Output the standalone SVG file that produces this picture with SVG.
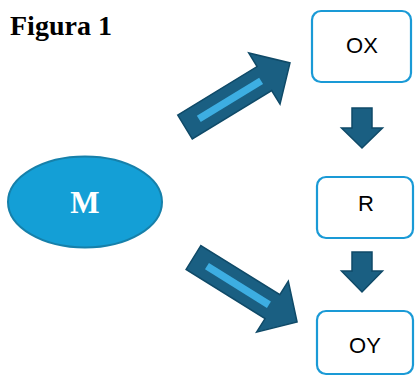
<svg xmlns="http://www.w3.org/2000/svg" width="415" height="378" viewBox="0 0 415 378">
  <defs>
    <style>
      .box { fill: #ffffff; stroke: #1a9ad6; stroke-width: 2.2; }
      .lbl { font-family: "Liberation Sans", Arial, sans-serif; font-size: 22px; fill: #000000; text-anchor: middle; }
      .arr { fill: #1a5f82; stroke: #0f4a68; stroke-width: 1.5; stroke-linejoin: miter; }
      .stripe { fill: #3daee2; }
    </style>
  </defs>
  <rect width="415" height="378" fill="#ffffff"/>
  <text x="10" y="35" font-family="'Liberation Serif', 'Times New Roman', serif" font-size="28" font-weight="bold" fill="#000000">Figura 1</text>

  <g id="node-M">
    <ellipse cx="85" cy="202" rx="77" ry="45.5" fill="#149fd6" stroke="#1680aa" stroke-width="2"/>
    <text x="85" y="213" font-family="'Liberation Serif', 'Times New Roman', serif" font-size="31" font-weight="bold" fill="#ffffff" text-anchor="middle">M</text>
  </g>

  <g id="node-OX">
    <rect class="box" x="312" y="11" width="99" height="71" rx="9"/>
    <text class="lbl" x="362" y="53">OX</text>
  </g>

  <g id="node-R">
    <rect class="box" x="317" y="177" width="96" height="61" rx="9"/>
    <text class="lbl" x="366" y="211">R</text>
  </g>

  <g id="node-OY">
    <rect class="box" x="317" y="311" width="96" height="63" rx="9"/>
    <text class="lbl" x="365" y="353">OY</text>
  </g>

  <g id="connectors">
    <g transform="translate(185,127) rotate(-31.4)">
      <polygon class="arr" points="0,-14 93,-14 93,-30 123,0 93,30 93,14 0,14"/>
      <rect class="stripe" x="16" y="-3.5" width="73" height="7.5"/>
    </g>
    <g transform="translate(193.5,257.5) rotate(31.9)">
      <polygon class="arr" points="0,-14 93,-14 93,-30 122,0 93,30 93,14 0,14"/>
      <rect class="stripe" x="16" y="-3.5" width="73" height="7.5"/>
    </g>
    <polygon class="arr" points="352,108 372,108 372,128 382.5,128 362,148 341.5,128 352,128"/>
    <polygon class="arr" points="352,252 372,252 372,271 382.5,271 362,292 341.5,271 352,271"/>
  </g>
</svg>
